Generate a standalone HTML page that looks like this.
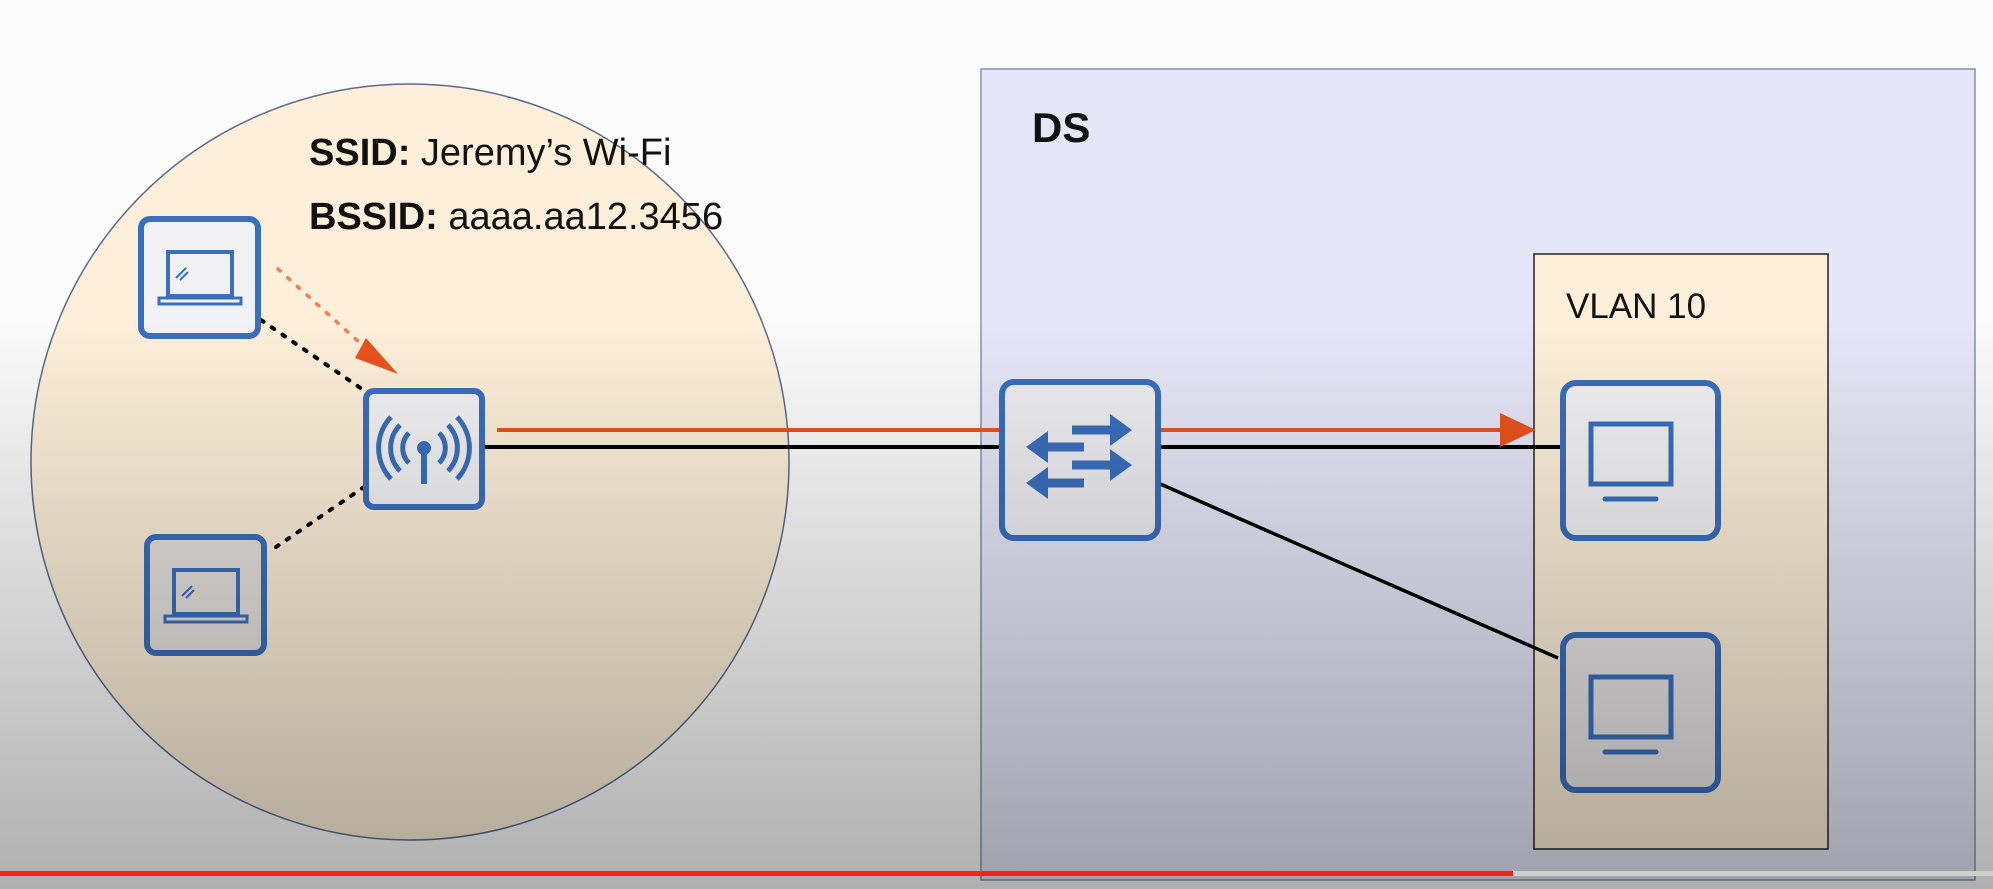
<!DOCTYPE html>
<html><head><meta charset="utf-8"><style>
html,body{margin:0;padding:0;background:#fff;}
svg{display:block;font-family:"Liberation Sans",sans-serif;}
</style></head><body>
<svg width="1993" height="889" viewBox="0 0 1993 889">
<defs>
<linearGradient id="shade" x1="0" y1="0" x2="0" y2="1">
<stop offset="0" stop-color="#000" stop-opacity="0"/>
<stop offset="0.36" stop-color="#000" stop-opacity="0"/>
<stop offset="0.48" stop-color="#000" stop-opacity="0.06"/>
<stop offset="1" stop-color="#000" stop-opacity="0.3"/>
</linearGradient>
</defs>
<rect width="1993" height="889" fill="#fbfbfb"/>
<ellipse cx="410" cy="462" rx="379" ry="378" fill="#fdefd9" stroke="#5a6b8c" stroke-width="1.5"/>
<rect x="981" y="69" width="994" height="811" fill="#e6e6f8" stroke="#8a90aa" stroke-width="1.5"/>
<text x="1032" y="142" font-size="42" font-weight="bold" fill="#111">DS</text>
<rect x="1534" y="254" width="294" height="595" fill="#fdefd9" stroke="#222" stroke-width="1.5"/>
<text x="1566" y="318" font-size="35" fill="#111">VLAN 10</text>
<text x="309" y="165" font-size="38" fill="#111"><tspan font-weight="bold">SSID:</tspan> Jeremy’s Wi-Fi</text>
<text x="309" y="229" font-size="38" fill="#111"><tspan font-weight="bold">BSSID:</tspan> aaaa.aa12.3456</text>
<line x1="482" y1="447" x2="1560" y2="447" stroke="#000" stroke-width="4"/>
<line x1="1158" y1="483" x2="1558" y2="658" stroke="#000" stroke-width="3.5"/>
<line x1="261" y1="320" x2="362" y2="389" stroke="#000" stroke-width="4" stroke-dasharray="3,10" stroke-linecap="round"/>
<line x1="276" y1="547" x2="364" y2="487" stroke="#000" stroke-width="4" stroke-dasharray="3,10" stroke-linecap="round"/>
<line x1="278" y1="269" x2="370" y2="352" stroke="#e8541e" stroke-width="3.5" stroke-dasharray="3,10" stroke-linecap="round" opacity="0.7"/>
<polygon points="398,374 366,338 355,358" fill="#e8541e"/>
<line x1="497" y1="430" x2="1505" y2="430" stroke="#e8541e" stroke-width="4"/>
<polygon points="1536,430 1500,413 1500,447" fill="#e8541e"/>
<g>
<rect x="141" y="219" width="117" height="117" rx="9" fill="#f2f2f4" stroke="#3a6fbd" stroke-width="6"/>
<rect x="168" y="252" width="64" height="44" fill="none" stroke="#3a6fbd" stroke-width="4"/>
<path d="M159,298 h82 v6 h-82 z" fill="none" stroke="#3a6fbd" stroke-width="3"/>
<path d="M176,278 l10,-10 M180,280 l8,-8" stroke="#3a6fbd" stroke-width="2"/>
</g>
<g>
<rect x="147" y="537" width="117" height="116" rx="9" fill="#e6e2de" stroke="#3a6fbd" stroke-width="6"/>
<rect x="174" y="570" width="64" height="44" fill="none" stroke="#3a6fbd" stroke-width="4"/>
<path d="M165,616 h82 v6 h-82 z" fill="none" stroke="#3a6fbd" stroke-width="3"/>
<path d="M182,596 l10,-10 M186,598 l8,-8" stroke="#3a6fbd" stroke-width="2"/>
</g>
<g>
<rect x="366" y="391" width="116" height="116" rx="8" fill="#f2f2f4" stroke="#3a6fbd" stroke-width="6"/>
<line x1="424" y1="448" x2="424" y2="484" stroke="#3a6fbd" stroke-width="6"/>
<circle cx="424" cy="448" r="7" fill="#3a6fbd"/>
<path d="M409,433 a21,21 0 0 0 0,30 M439,433 a21,21 0 0 1 0,30 M400,425 a33,33 0 0 0 0,46 M448,425 a33,33 0 0 1 0,46 M391,417 a45,45 0 0 0 0,62 M457,417 a45,45 0 0 1 0,62" fill="none" stroke="#3a6fbd" stroke-width="5"/>
</g>
<g>
<rect x="1002" y="382" width="156" height="156" rx="12" fill="#eeeef2" stroke="#3a6fbd" stroke-width="6"/>
<g stroke="#3a6fbd" stroke-width="9">
<line x1="1072" y1="430" x2="1116" y2="430"/>
<line x1="1084" y1="447" x2="1042" y2="447"/>
<line x1="1072" y1="465" x2="1116" y2="465"/>
<line x1="1084" y1="483" x2="1042" y2="483"/>
</g>
<g fill="#3a6fbd">
<polygon points="1132,430 1110,414 1110,446"/>
<polygon points="1026,447 1048,431 1048,463"/>
<polygon points="1132,465 1110,449 1110,481"/>
<polygon points="1026,483 1048,467 1048,499"/>
</g>
</g>
<g>
<rect x="1563" y="383" width="155" height="155" rx="13" fill="#f2f2f4" stroke="#3a6fbd" stroke-width="6"/>
<rect x="1591" y="424" width="80" height="60" fill="none" stroke="#3a6fbd" stroke-width="5"/>
<line x1="1605" y1="499" x2="1656" y2="499" stroke="#3a6fbd" stroke-width="5" stroke-linecap="round"/>
</g>
<g>
<rect x="1563" y="635" width="155" height="155" rx="13" fill="#e8e6e6" stroke="#3a6fbd" stroke-width="6"/>
<rect x="1591" y="677" width="80" height="60" fill="none" stroke="#3a6fbd" stroke-width="5"/>
<line x1="1605" y1="752" x2="1656" y2="752" stroke="#3a6fbd" stroke-width="5" stroke-linecap="round"/>
</g>
<rect width="1993" height="889" fill="url(#shade)"/>
<g>
<rect x="0" y="871" width="1993" height="5" fill="#d0d0d0"/>
<rect x="0" y="871" width="1513" height="5" fill="#f0261b"/>
</g>
</svg>
</body></html>
